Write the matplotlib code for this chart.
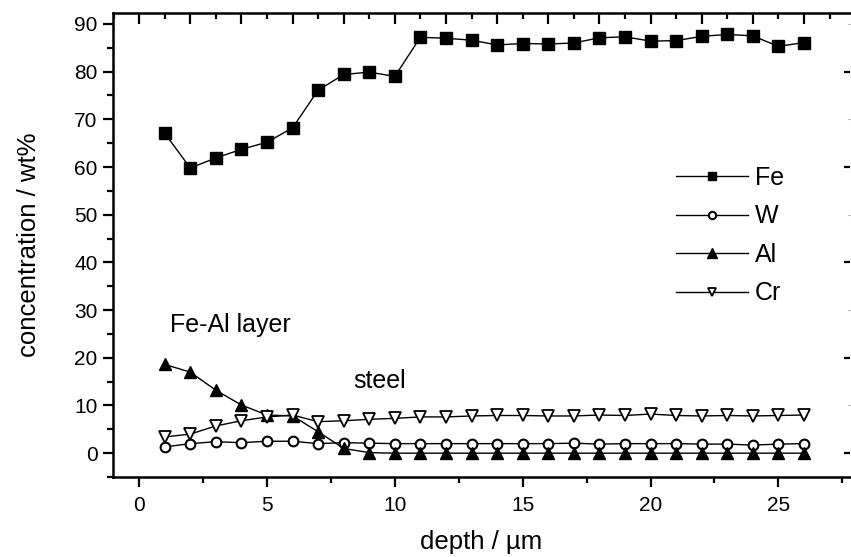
import matplotlib
matplotlib.use("Agg")
import matplotlib.pyplot as plt
from matplotlib.ticker import MultipleLocator

plt.rcParams["font.family"] = ["Liberation Sans", "DejaVu Sans"]

# Valeurs
depth = list(range(1, 27))
fe = [67.1, 59.8, 61.9, 63.7, 65.2, 68.2, 76.1, 79.4, 79.9, 79.0,
      87.2, 87.0, 86.6, 85.6, 85.9, 85.8, 86.0, 87.1, 87.3, 86.4,
      86.5, 87.4, 87.8, 87.5, 85.3, 86.1]
w = [1.3, 2.0, 2.4, 2.2, 2.5, 2.5, 2.0, 2.2, 2.1, 2.0,
     2.0, 2.0, 2.0, 2.0, 2.0, 2.0, 2.1, 1.9, 2.0, 2.0,
     2.0, 1.9, 1.9, 1.7, 1.9, 2.0]
al = [18.6, 17.0, 13.2, 10.1, 8.0, 7.8, 4.5, 1.0, 0.1, 0.0,
      0.0, 0.0, 0.0, 0.0, 0.0, 0.0, 0.0, 0.0, 0.0, 0.0,
      0.0, 0.0, 0.0, 0.0, 0.0, 0.0]
cr = [3.4, 4.0, 5.7, 6.8, 7.6, 8.0, 6.6, 6.8, 7.1, 7.3,
      7.6, 7.6, 7.8, 7.9, 7.9, 7.8, 7.8, 8.0, 7.9, 8.2,
      7.9, 7.8, 7.9, 7.8, 7.9, 8.0]

fig = plt.figure(figsize=(8.51, 5.57), dpi=100)
ax = fig.add_axes([0.1328, 0.1436, 0.866, 0.8331])

ax.plot(depth, fe, "-", color="black", lw=1.0, marker="s", ms=8.5, mfc="black", label="Fe")
ax.plot(depth, w, "-", color="black", lw=1.0, marker="o", ms=7, mfc="white", mew=1.5, label="W")
ax.plot(depth, al, "-", color="black", lw=1.0, marker="^", ms=9, mfc="black", label="Al")
ax.plot(depth, cr, "-", color="black", lw=1.0, marker="v", ms=8, mfc="white", mew=1.3, label="Cr")

ax.set_xlim(-1.02, 27.8)
ax.set_ylim(-5, 92.3)
ax.xaxis.set_major_locator(MultipleLocator(5))
ax.xaxis.set_minor_locator(MultipleLocator(2.5))
ax.yaxis.set_major_locator(MultipleLocator(10))
ax.yaxis.set_minor_locator(MultipleLocator(5))

ax.tick_params(axis="both", which="major", direction="out", length=7.5, width=1.6, labelsize=15)
ax.tick_params(axis="x", which="major", pad=6)
ax.tick_params(axis="both", which="minor", direction="out", length=4.5, width=1.6)
ax.spines["right"].set_visible(False)
for s in ["left", "bottom", "top"]:
    ax.spines[s].set_linewidth(1.8)

# graduations du haut, vers l'intérieur
top = ax.secondary_xaxis("top")
top.xaxis.set_major_locator(MultipleLocator(2))
top.xaxis.set_minor_locator(MultipleLocator(1))
top.tick_params(which="major", direction="in", length=8, width=1.6, labeltop=False)
top.tick_params(which="minor", direction="in", length=4, width=1.6)
top.spines["top"].set_visible(False)

# graduations de droite, vers l'intérieur
right = ax.secondary_yaxis("right")
right.yaxis.set_major_locator(MultipleLocator(20))
right.yaxis.set_minor_locator(MultipleLocator(10))
right.tick_params(which="major", direction="in", length=4, width=1.6, labelright=False)
right.tick_params(which="minor", direction="in", length=1.5, width=0.8, color="0.6")
right.spines["right"].set_visible(False)

ax.set_xlabel("depth / µm", fontsize=18.5, labelpad=11)
ax.set_ylabel("concentration / wt%", fontsize=18.5, labelpad=24)

ax.text(1.2, 25.4, "Fe-Al layer", fontsize=18)
ax.text(8.36, 13.6, "steel", fontsize=18)

ax.legend(loc="upper left", bbox_to_anchor=(0.751, 0.692), frameon=False, fontsize=18,
          handlelength=2.85, handletextpad=0.3, labelspacing=0.58, markerscale=0.75,
          numpoints=1, borderaxespad=0)

fig.savefig("out.png", dpi=100)
